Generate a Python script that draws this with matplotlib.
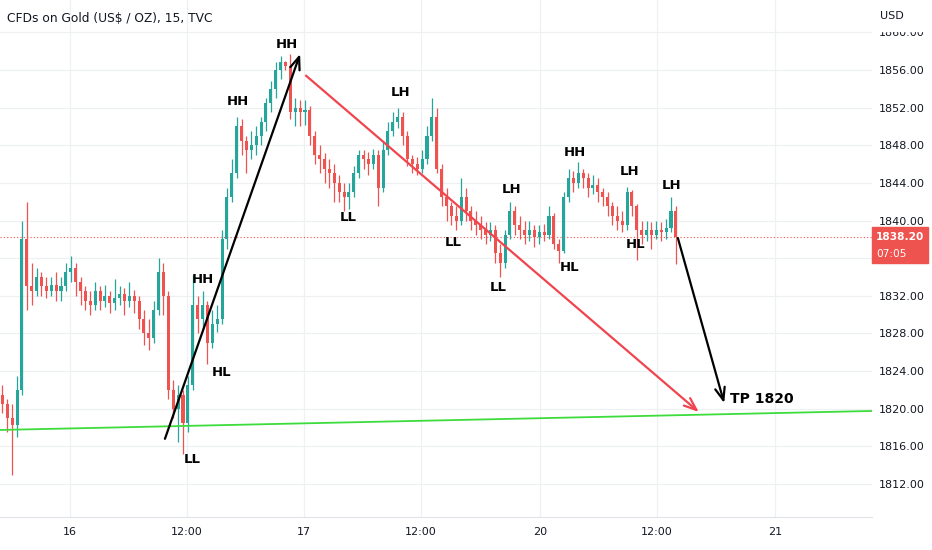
import matplotlib
matplotlib.use("Agg")
import matplotlib.pyplot as plt
from matplotlib.patches import Rectangle

# 30-minute bars (price in US$)
first_open = 1821.5
close = [1820.5, 1819.0, 1818.3, 1822.0, 1838.0, 1833.0, 1832.5, 1834.0, 1833.0, 1832.5,
         1833.2, 1832.5, 1833.0, 1834.5, 1835.0, 1833.5, 1832.5, 1831.5, 1831.0, 1832.5,
         1831.5, 1832.0, 1831.2, 1831.8, 1832.2, 1831.5, 1832.0, 1831.5, 1829.5, 1828.0,
         1827.5, 1830.5, 1834.5, 1832.0, 1822.0, 1820.0, 1821.5, 1818.5, 1822.5, 1831.0,
         1829.5, 1831.0, 1827.0, 1829.0, 1829.5, 1838.0, 1842.5, 1845.0, 1850.0, 1848.5,
         1847.5, 1848.0, 1849.0, 1850.5, 1852.5, 1854.0, 1856.0, 1856.8, 1856.4, 1851.5,
         1852.0, 1851.5, 1851.8, 1849.0, 1847.0, 1846.5, 1845.5, 1845.0, 1844.0, 1843.0,
         1842.5, 1843.0, 1845.0, 1847.0, 1846.5, 1846.0, 1847.0, 1843.5, 1847.5, 1849.5,
         1850.5, 1851.0, 1849.0, 1846.5, 1846.0, 1845.5, 1846.5, 1849.0, 1851.0, 1845.5,
         1842.5, 1841.5, 1840.5, 1840.0, 1842.5, 1841.0, 1840.0, 1839.5, 1839.0, 1838.5,
         1839.0, 1836.5, 1835.5, 1838.5, 1841.0, 1839.5, 1839.0, 1838.5, 1839.0, 1838.2,
         1838.8, 1838.5, 1840.5, 1837.5, 1836.8, 1842.5, 1844.5, 1844.0, 1845.0, 1844.5,
         1843.5, 1843.8, 1843.0, 1842.5, 1841.5, 1840.5, 1840.0, 1839.5, 1843.0, 1841.5,
         1839.0, 1838.5, 1839.0, 1838.5, 1839.0, 1838.8, 1839.2, 1841.0, 1838.2]
high = [1822.5, 1821.0, 1820.5, 1823.5, 1840.0, 1842.0, 1835.5, 1835.0, 1834.5, 1834.0,
        1834.0, 1834.5, 1834.0, 1835.5, 1836.2, 1835.5, 1834.0, 1833.0, 1832.5, 1833.5,
        1833.0, 1833.2, 1832.5, 1833.8, 1833.0, 1832.8, 1833.5, 1832.6, 1832.0, 1830.5,
        1829.5, 1831.5, 1836.0, 1835.5, 1832.5, 1823.0, 1822.5, 1822.0, 1823.5, 1834.2,
        1832.0, 1832.5, 1831.5, 1830.5, 1831.0, 1839.0, 1843.5, 1846.5, 1851.0, 1850.8,
        1849.0, 1849.5, 1850.0, 1851.0, 1853.0, 1854.8, 1856.8, 1857.5, 1857.0, 1857.7,
        1853.0, 1852.8, 1852.8, 1852.2, 1849.5, 1848.0, 1847.2, 1846.5, 1846.0, 1844.8,
        1844.0, 1844.0, 1845.8, 1847.5, 1847.5, 1847.3, 1847.6, 1847.5, 1848.5, 1850.5,
        1851.5, 1852.0, 1851.5, 1849.5, 1847.0, 1846.8, 1847.5, 1850.0, 1853.0, 1852.0,
        1846.0, 1843.5, 1842.0, 1841.5, 1844.5, 1843.5, 1841.5, 1841.0, 1840.5, 1839.8,
        1839.8, 1839.5, 1837.5, 1839.0, 1842.0, 1841.5, 1840.5, 1840.0, 1840.0, 1839.5,
        1839.5, 1839.6, 1841.5, 1840.8, 1838.0, 1843.0, 1845.5, 1845.3, 1846.2, 1845.5,
        1845.0, 1844.8, 1844.5, 1843.5, 1843.0, 1842.0, 1841.5, 1841.0, 1843.6, 1843.2,
        1841.8, 1840.0, 1840.0, 1839.8, 1840.0, 1839.8, 1840.2, 1842.5, 1841.5]
low = [1819.5, 1817.5, 1813.0, 1817.0, 1821.5, 1830.5, 1831.0, 1832.0, 1832.0, 1831.8,
       1832.0, 1831.5, 1831.5, 1832.5, 1833.5, 1832.0, 1831.0, 1830.5, 1830.0, 1830.5,
       1830.5, 1830.8, 1830.2, 1830.5, 1831.0, 1830.0, 1830.8, 1830.2, 1828.5, 1826.8,
       1826.2, 1827.0, 1830.0, 1830.0, 1821.0, 1819.0, 1816.5, 1815.2, 1817.5, 1822.0,
       1828.0, 1828.5, 1824.8, 1826.5, 1828.2, 1829.0, 1837.0, 1842.0, 1844.5, 1847.0,
       1845.0, 1846.5, 1847.0, 1848.0, 1849.5, 1851.5, 1853.0, 1855.0, 1856.0, 1850.8,
       1850.0, 1850.0, 1850.2, 1848.0, 1846.0, 1845.0, 1844.0, 1843.5, 1842.0, 1842.0,
       1841.0, 1841.2, 1842.5, 1844.5, 1845.5, 1844.8, 1845.5, 1841.5, 1843.0, 1847.0,
       1849.0, 1849.8, 1848.0, 1845.8, 1845.0, 1844.8, 1845.0, 1846.0, 1848.5, 1845.0,
       1841.5, 1840.0, 1839.5, 1839.0, 1839.5, 1840.0, 1839.0, 1838.5, 1838.0, 1837.5,
       1837.8, 1835.5, 1834.0, 1835.0, 1838.0, 1838.5, 1838.0, 1837.5, 1837.8, 1837.2,
       1837.5, 1837.8, 1838.0, 1837.0, 1835.5, 1836.5, 1842.0, 1843.0, 1843.5, 1843.5,
       1842.5, 1842.8, 1842.0, 1841.5, 1840.5, 1839.5, 1839.0, 1838.8, 1839.0, 1840.5,
       1835.8, 1837.5, 1837.8, 1837.0, 1838.0, 1837.8, 1838.0, 1838.8, 1835.4]
last_price = 1838.20
countdown = "07:05"

x_ticks = [14.3, 38.3, 62.2, 86.3, 110.6, 134.6, 158.8]
x_labels = ["16", "12:00", "17", "12:00", "20", "12:00", "21"]
y_ticks = [1812, 1816, 1820, 1824, 1828, 1832, 1836, 1840, 1844, 1848, 1852, 1856, 1860]
hidden_tick = 1836  # sits under the last-price badge

# hand-drawn trend lines (bar index, price)
support = [(0, 1817.74), (178.7, 1819.76)]
arrows = [((33.8, 1816.8), (61.5, 1857.7), "black"),
          ((62.7, 1855.4), (143.2, 1819.65), "#f0454f"),
          ((138.9, 1838.15), (148.4, 1820.6), "black")]
swing_labels = [("HH", 58.8, 1858.7), ("HH", 48.8, 1852.7), ("LH", 82.0, 1853.6),
                ("LL", 71.3, 1840.3), ("LH", 104.9, 1843.3), ("HH", 117.8, 1847.2),
                ("LH", 129.1, 1845.2), ("LH", 137.7, 1843.7), ("LL", 92.8, 1837.7),
                ("LL", 102.0, 1832.9), ("HL", 116.8, 1835.0), ("HL", 130.3, 1837.5),
                ("HH", 41.6, 1833.7), ("HL", 45.5, 1823.8), ("LL", 39.3, 1814.6)]

UP = "#26a69a"
DOWN = "#ef5350"
TXT = "#131722"

fig = plt.figure(figsize=(9.32, 5.5), dpi=100)
ax = fig.add_axes([0, 33 / 550, 872 / 932, 517 / 550])
ax.set_xlim(0, 872 / 4.88)
ax.set_ylim(1808.49, 1863.44)

opens = [first_open] + close[:-1]
for i in range(len(close)):
    o, c = opens[i], close[i]
    col = UP if c >= o else DOWN
    xc = i + 0.5
    ax.vlines(xc, low[i], high[i], color=col, lw=0.9, zorder=3)
    h = abs(c - o) if abs(c - o) > 0.08 else 0.08
    ax.bar(xc, h, bottom=min(o, c), width=0.62, color=col, lw=0, zorder=3)

ax.axhline(last_price, color=DOWN, ls=(0, (1, 2)), lw=0.8, zorder=2)

ax.plot([p[0] for p in support], [p[1] for p in support], color="#3ddc3d", lw=1.3, zorder=4)
for start, tip, col in arrows:
    ax.annotate("", xy=tip, xytext=start,
                arrowprops=dict(arrowstyle="->,head_length=0.9,head_width=0.35",
                                color=col, lw=1.6, shrinkA=0, shrinkB=0),
                zorder=5)

for txt, x, y in swing_labels:
    ax.text(x, y, txt, ha="center", va="center", fontsize=9.5,
            fontweight="bold", color="black", zorder=6)
ax.text(149.6, 1821.0, "TP 1820", ha="left", va="center", fontsize=10,
        fontweight="bold", color="black", zorder=6)

ax.set_xticks(x_ticks)
ax.set_xticklabels(x_labels)
ax.set_yticks(y_ticks)
ax.set_yticklabels(["" if v == hidden_tick else f"{v:.2f}" for v in y_ticks])
ax.yaxis.tick_right()
ax.tick_params(axis="y", length=0, pad=5, labelsize=8, labelcolor=TXT)
ax.tick_params(axis="x", length=0, pad=7, labelsize=8, labelcolor=TXT)
ax.grid(True, color="#eef0f4", lw=0.9, zorder=0)
for s in ["top", "left", "right"]:
    ax.spines[s].set_visible(False)
ax.spines["bottom"].set_color("#dfe2e8")

# price scale header hides the top of the highest tick label
fig.patches.append(Rectangle((873 / 932, 1 - 31 / 550), 59 / 932, 31 / 550,
                             transform=fig.transFigure, color="white", zorder=10))
fig.text(880 / 932, 1 - 16 / 550, "USD", fontsize=8, color=TXT, va="center", zorder=11)

# last price badge
fig.patches.append(Rectangle((872 / 932, 1 - 263 / 550), 56 / 932, 36 / 550,
                             transform=fig.transFigure, color=DOWN, zorder=10))
fig.text(876 / 932, 1 - 237 / 550, f"{last_price:.2f}", fontsize=7.6, fontweight="bold",
         color="white", va="center", zorder=11)
fig.text(876 / 932, 1 - 254 / 550, countdown, fontsize=7.6, color="white", va="center", zorder=11)

fig.text(7 / 932, 1 - 18 / 550, "CFDs on Gold (US$ / OZ), 15, TVC", fontsize=8.8,
         color=TXT, va="center")

fig.savefig("out.png", dpi=100)
